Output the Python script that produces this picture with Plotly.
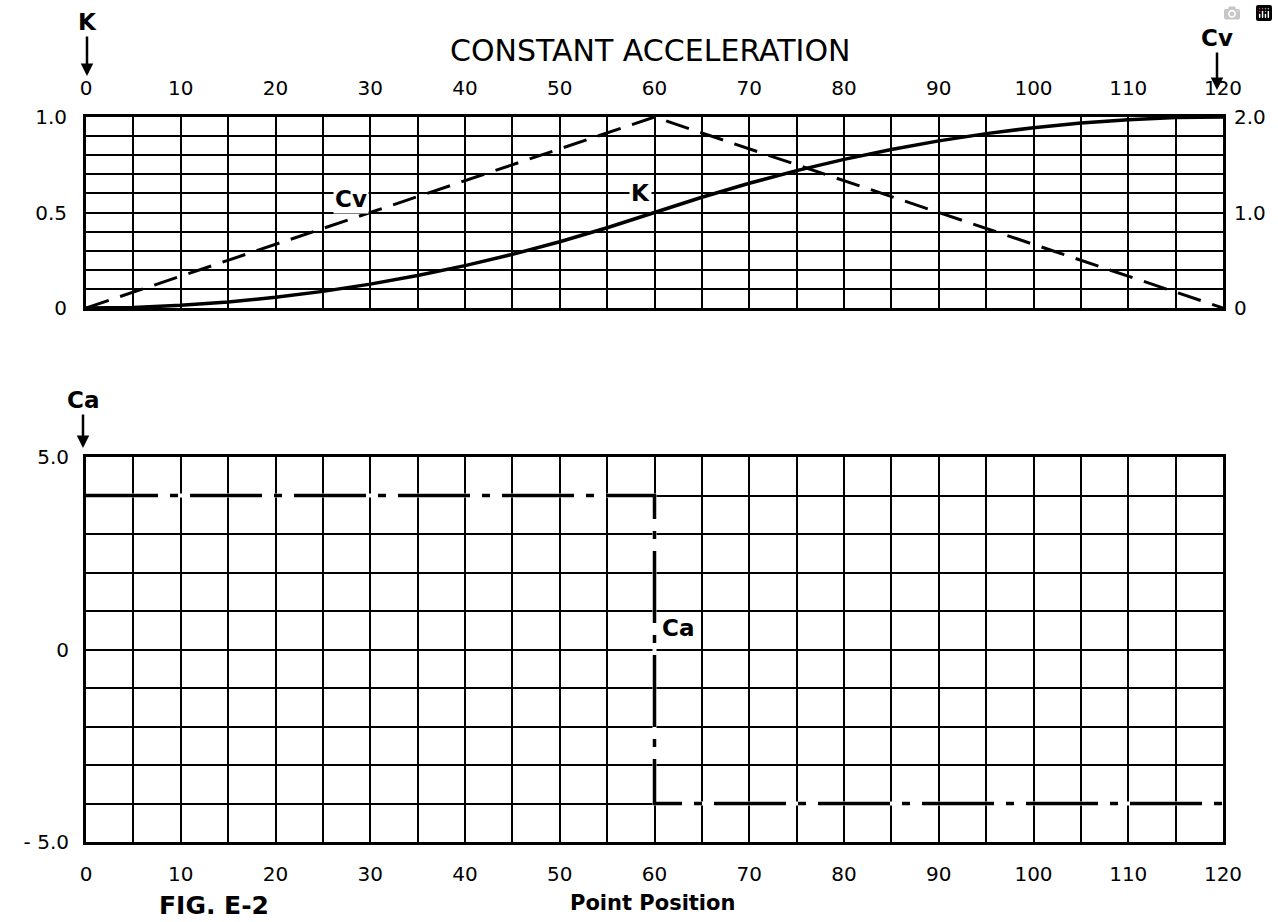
import plotly.graph_objects as go

# ---------------- data ----------------
pos = [0, 5, 10, 15, 20, 25, 30, 35, 40, 45, 50, 55, 60,
       65, 70, 75, 80, 85, 90, 95, 100, 105, 110, 115, 120]
K_vals = [0.0, 0.003, 0.014, 0.031, 0.056, 0.087, 0.125, 0.170, 0.222, 0.281, 0.347, 0.420, 0.500,
          0.580, 0.653, 0.719, 0.778, 0.830, 0.875, 0.913, 0.944, 0.969, 0.986, 0.997, 1.0]
cv_pos = [0, 60, 120]
Cv_vals = [0.0, 2.0, 0.0]
ca_pos = [0, 60, 60, 120]
Ca_vals = [4.0, 4.0, -4.0, -4.0]

x_ticks = [0, 10, 20, 30, 40, 50, 60, 70, 80, 90, 100, 110, 120]
x_ticktext = ["0", "10", "20", "30", "40", "50", "60", "70", "80", "90", "100", "110", "120"]
k_ticks = [0, 0.5, 1.0]
k_ticktext = ["0", "0.5", "1.0"]
cv_ticks = [0, 1.0, 2.0]
cv_ticktext = ["0", "1.0", "2.0"]
ca_ticks = [-5, 0, 5]
ca_ticktext = ["- 5.0", "0", "5.0"]

W, H = 1278, 922
FONT = "DejaVu Sans"

def px_x(p):
    return p / W

def px_y(p):
    return 1 - p / H

xdom = [px_x(86), px_x(1223)]
top_dom = [px_y(308), px_y(117)]
bot_dom = [px_y(842), px_y(457)]

fig = go.Figure()

fig.add_trace(go.Scatter(x=pos, y=K_vals, mode="lines", xaxis="x", yaxis="y",
                         line=dict(color="black", width=3.5), showlegend=False))
fig.add_trace(go.Scatter(x=cv_pos, y=Cv_vals, mode="lines", xaxis="x", yaxis="y2",
                         line=dict(color="black", width=3, dash="24px,12px"), showlegend=False))
# white under-stroke so that the gaps of the dash-dot line show paper, not grid
fig.add_trace(go.Scatter(x=ca_pos, y=Ca_vals, mode="lines", xaxis="x2", yaxis="y3",
                         line=dict(color="white", width=4), showlegend=False, hoverinfo="skip"))
fig.add_trace(go.Scatter(x=ca_pos, y=Ca_vals, mode="lines", xaxis="x2", yaxis="y3",
                         line=dict(color="black", width=3.5, dash="72px,12px,8px,12px"),
                         showlegend=False))

tickfont = dict(family=FONT, size=20, color="black")
common = dict(showline=True, mirror=True, linecolor="black", linewidth=3,
              showgrid=True, gridcolor="black", gridwidth=1.8, ticks="",
              tickfont=tickfont, zeroline=False, fixedrange=True, automargin=False)
minor_grid = dict(showgrid=True, gridcolor="black", gridwidth=1.8)

fig.update_layout(
    width=W, height=H, margin=dict(l=0, r=0, t=0, b=0, autoexpand=False),
    paper_bgcolor="white", plot_bgcolor="white",
    font=dict(family=FONT, color="black"),
    xaxis=dict(domain=xdom, anchor="y", side="top", range=[0, 120],
               tickvals=x_ticks, ticktext=x_ticktext, ticklabelstandoff=11,
               minor=dict(dtick=5, tick0=0, **minor_grid), **common),
    yaxis=dict(domain=top_dom, anchor="x", range=[0, 1.0],
               tickvals=k_ticks, ticktext=k_ticktext, ticklabelstandoff=12,
               minor=dict(dtick=0.1, tick0=0, **minor_grid), **common),
    yaxis2=dict(overlaying="y", anchor="x", side="right", range=[0, 2.0],
                tickvals=cv_ticks, ticktext=cv_ticktext, showgrid=False, showline=False,
                ticks="", tickfont=tickfont, zeroline=False, ticklabelstandoff=10,
                fixedrange=True, automargin=False),
    xaxis2=dict(domain=xdom, anchor="y3", range=[0, 120],
                tickvals=x_ticks, ticktext=x_ticktext, ticklabelstandoff=12,
                minor=dict(dtick=5, tick0=0, **minor_grid), **common),
    yaxis3=dict(domain=bot_dom, anchor="x2", range=[-5, 5],
                tickvals=ca_ticks, ticktext=ca_ticktext, ticklabelstandoff=10,
                minor=dict(dtick=1, tick0=0, **minor_grid), **common),
)

def lab(x, y, text, size=24, **kw):
    d = dict(xref="paper", yref="paper", x=x, y=y, text=text, showarrow=False,
             xanchor="center", yanchor="middle",
             font=dict(family=FONT, size=size, color="black"))
    d.update(kw)
    return d

ann = []
# title
ann.append(lab(px_x(650), px_y(50), "CONSTANT ACCELERATION", size=30))
# axis-name arrows
arrow = dict(showarrow=True, arrowhead=2, arrowsize=1, arrowwidth=2.5, arrowcolor="black",
             axref="pixel", ayref="pixel", ax=0)
ann.append(lab(px_x(87), px_y(76), "<b>K</b>", size=23, ay=-54, **arrow))
ann.append(lab(px_x(1217), px_y(90), "<b>Cv</b>", size=23, ay=-52, **arrow))
ann.append(lab(px_x(83), px_y(448), "<b>Ca</b>", size=23, ay=-48, **arrow))
# in-plot labels
ann.append(dict(xref="x", yref="y", x=28, y=0.57, text="<b>Cv</b>", showarrow=False, bgcolor="white",
                xanchor="center", yanchor="middle", font=dict(family=FONT, size=23, color="black")))
ann.append(dict(xref="x", yref="y", x=58.5, y=0.6, text="<b>K</b>", showarrow=False, bgcolor="white",
                xanchor="center", yanchor="middle", font=dict(family=FONT, size=23, color="black")))
ann.append(dict(xref="x2", yref="y3", x=60.6, y=0.55, text="<b>Ca</b>", showarrow=False, bgcolor="white",
                xanchor="left", yanchor="middle", font=dict(family=FONT, size=23, color="black")))
# footer
ann.append(lab(px_x(214), px_y(905), "<b>FIG. E-2</b>", size=25))
ann.append(lab(px_x(652), px_y(903), "<b>Point Position</b>", size=21))
fig.update_layout(annotations=ann)

fig.write_html("out.html")
with open("out.html", "r", encoding="utf-8") as f:
    html = f.read()
html = html.replace("<body>", "<body style=\"margin:0;padding:0;overflow:hidden\">", 1)
with open("out.html", "w", encoding="utf-8") as f:
    f.write(html)
